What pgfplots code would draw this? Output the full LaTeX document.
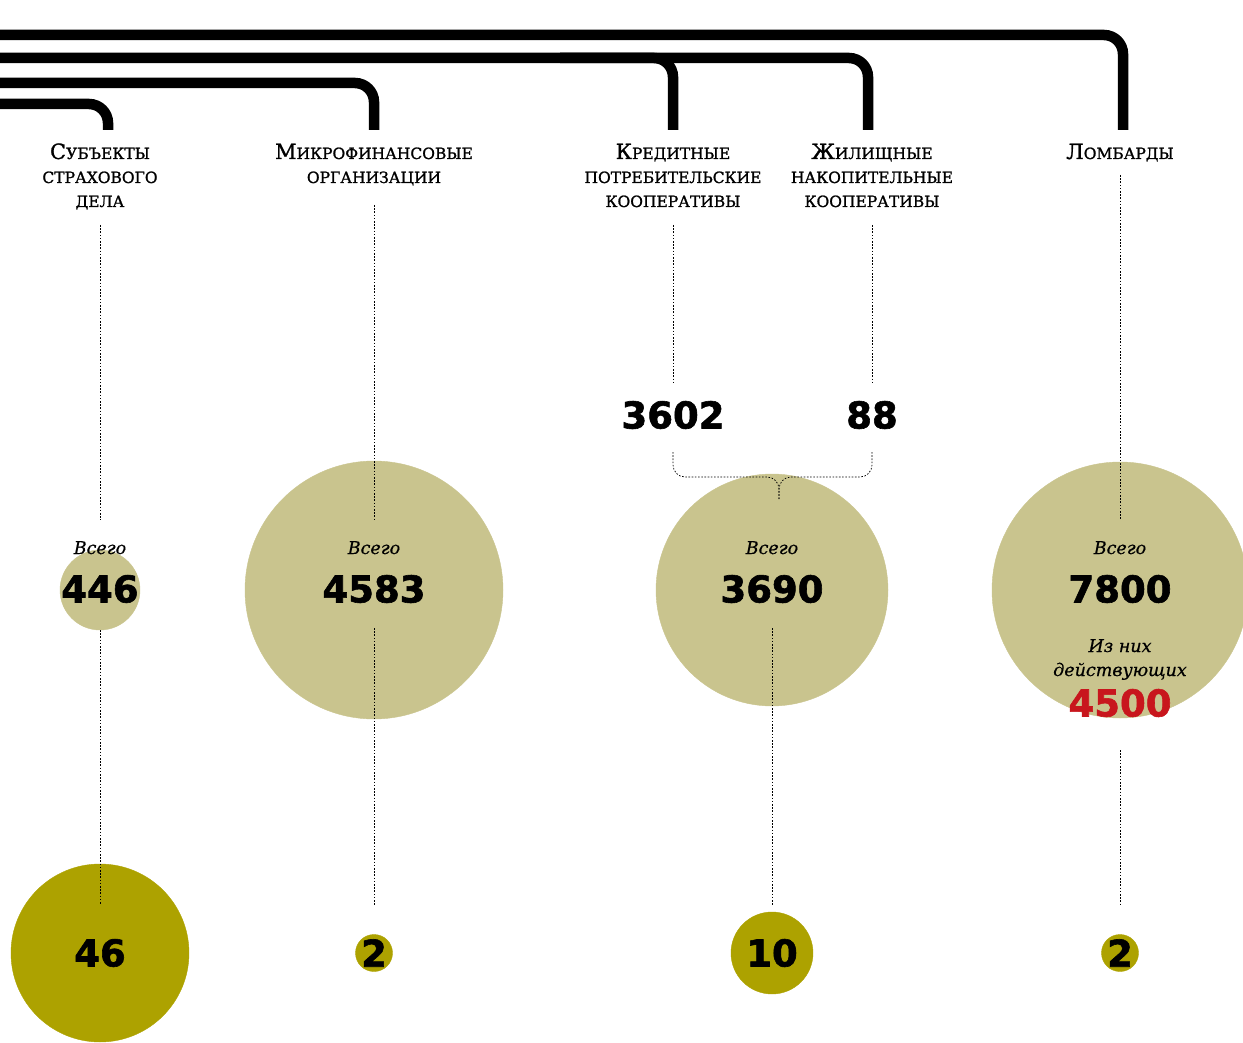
\documentclass[border=0pt]{standalone}
\usepackage{fontspec}
\setmainfont{DejaVu Serif}
\newfontfamily\lblfont{DejaVu Serif}[FakeBold=1.2]
\newfontfamily\itfont{DejaVu Serif Italic}[FakeBold=0.6]
\newfontfamily\numfont{DejaVu Sans Bold}[FakeBold=1.6]
\usepackage{pgfplots}
\pgfplotsset{compat=1.18}

\definecolor{bubblelight}{HTML}{C9C48E}
\definecolor{bubbledark}{HTML}{ADA200}
\definecolor{accentred}{HTML}{C8161D}

% fake small caps: capital + smaller capitals
\newcommand\capl[1]{{\fontsize{21}{24}\selectfont #1}}
\newcommand\smc[1]{{\fontsize{15.5}{24}\selectfont #1}}

\begin{document}
\begin{tikzpicture}[
    lbl/.style={font=\lblfont, anchor=base, inner sep=0pt, text=black},
    num/.style={font=\numfont\fontsize{37}{40}\selectfont, inner sep=0pt, anchor=center},
    vsego/.style={font=\itfont\fontsize{17.5}{20}\selectfont, anchor=base, inner sep=0pt},
    guide/.style={black, line width=0.7pt, dash pattern=on 1.6pt off 1.6pt},
    bar/.style={black, line width=10.5pt, rounded corners=19pt},
]
\begin{axis}[
    width=1243pt, height=1043pt,
    scale only axis,
    xmin=0, xmax=1243,
    ymin=0, ymax=1043,
    y dir=reverse,
    hide axis,
    clip marker paths=true,
]
    % connectors at the top
    \addplot[bar] coordinates {(-20,35) (1123,35) (1123,130)};
    \addplot[bar] coordinates {(-20,58) (868,58) (868,130)};
    \addplot[bar] coordinates {(560,58) (673,58) (673,130)};
    \addplot[bar] coordinates {(-20,83) (374,83) (374,130)};
    \addplot[bar] coordinates {(-20,104) (108,104) (108,130)};

    % totals (area ~ value)
    \addplot[only marks, mark=*, bubblelight, mark size=40] coordinates {(100,590)};
    \addplot[only marks, mark=*, bubblelight, mark size=129] coordinates {(374,590)};
    \addplot[only marks, mark=*, bubblelight, mark size=116] coordinates {(772,590)};
    \addplot[only marks, mark=*, bubblelight, mark size=128] coordinates {(1120,590)};

    % second row
    \addplot[only marks, mark=*, bubbledark, mark size=89] coordinates {(100,953)};
    \addplot[only marks, mark=*, bubbledark, mark size=18.5] coordinates {(374,953)};
    \addplot[only marks, mark=*, bubbledark, mark size=41] coordinates {(772,953)};
    \addplot[only marks, mark=*, bubbledark, mark size=18.5] coordinates {(1120,953)};

    % dotted guides
    \addplot[guide] coordinates {(100,225) (100,520)};
    \addplot[guide] coordinates {(100,630) (100,905)};
    \addplot[guide] coordinates {(374,205) (374,520)};
    \addplot[guide] coordinates {(374,628) (374,905)};
    \addplot[guide] coordinates {(673,225) (673,382)};
    \addplot[guide] coordinates {(872,225) (872,382)};
    \addplot[guide, rounded corners=12pt] coordinates {(673,452) (673,477) (779,477) (779,499)};
    \addplot[guide, rounded corners=12pt] coordinates {(872,452) (872,477) (779,477) (779,499)};
    \addplot[guide] coordinates {(772,628) (772,905)};
    \addplot[guide] coordinates {(1120,175) (1120,520)};
    \addplot[guide] coordinates {(1120,750) (1120,905)};

    % category labels
    \node[lbl] at (axis cs:100,159) {\capl{С}\smc{УБЪЕКТЫ}};
    \node[lbl] at (axis cs:100,183) {\smc{СТРАХОВОГО}};
    \node[lbl] at (axis cs:100,207) {\smc{ДЕЛА}};
    \node[lbl] at (axis cs:374,159) {\capl{М}\smc{ИКРОФИНАНСОВЫЕ}};
    \node[lbl] at (axis cs:374,183) {\smc{ОРГАНИЗАЦИИ}};
    \node[lbl] at (axis cs:673,159) {\capl{К}\smc{РЕДИТНЫЕ}};
    \node[lbl] at (axis cs:673,183) {\smc{ПОТРЕБИТЕЛЬСКИЕ}};
    \node[lbl] at (axis cs:673,207) {\smc{КООПЕРАТИВЫ}};
    \node[lbl] at (axis cs:872,159) {\capl{Ж}\smc{ИЛИЩНЫЕ}};
    \node[lbl] at (axis cs:872,183) {\smc{НАКОПИТЕЛЬНЫЕ}};
    \node[lbl] at (axis cs:872,207) {\smc{КООПЕРАТИВЫ}};
    \node[lbl] at (axis cs:1120,159) {\capl{Л}\smc{ОМБАРДЫ}};

    % split of credit + housing cooperatives
    \node[num] at (axis cs:673,415) {3602};
    \node[num] at (axis cs:872,415) {88};

    % totals text
    \node[vsego] at (axis cs:100,554) {Всего};
    \node[vsego] at (axis cs:374,554) {Всего};
    \node[vsego] at (axis cs:772,554) {Всего};
    \node[vsego] at (axis cs:1120,554) {Всего};
    \node[num] at (axis cs:100,589) {446};
    \node[num] at (axis cs:374,589) {4583};
    \node[num] at (axis cs:772,589) {3690};
    \node[num] at (axis cs:1120,589) {7800};
    \node[vsego] at (axis cs:1120,652) {Из них};
    \node[vsego] at (axis cs:1120,676) {действующих};
    \node[num, text=accentred] at (axis cs:1120,703) {4500};

    % second row values
    \node[num] at (axis cs:100,953) {46};
    \node[num] at (axis cs:374,953) {2};
    \node[num] at (axis cs:772,953) {10};
    \node[num] at (axis cs:1120,953) {2};
\end{axis}
\pgfresetboundingbox
\useasboundingbox (current axis.south west) rectangle (current axis.north east);
\end{tikzpicture}
\end{document}
